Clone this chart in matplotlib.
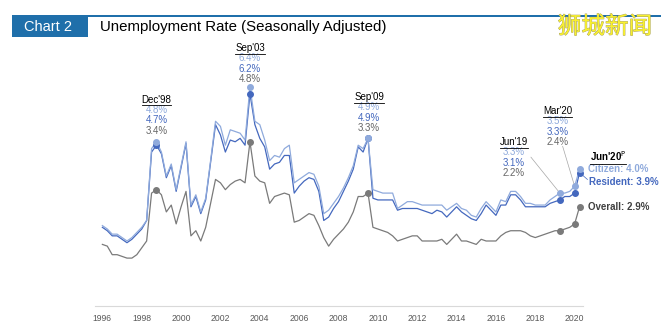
import matplotlib
matplotlib.use('Agg')
import matplotlib.pyplot as plt
import matplotlib.patheffects as pe
from matplotlib.lines import Line2D
from matplotlib.patches import Rectangle
from matplotlib.transforms import IdentityTransform

plt.rcParams['font.family'] = ['Liberation Sans', 'DejaVu Sans']

# Quarterly, Mar'96 .. Jun'20 (seasonally adjusted, %)
citizen = [2.35, 2.25, 2.1, 2.1, 2.0, 1.9, 2.0, 2.15, 2.3, 2.5,
           4.6, 4.8, 4.5, 3.8, 4.15, 3.4, 4.1, 4.8, 2.95, 3.25,
           2.75, 3.15, 4.25, 5.4, 5.25, 4.7, 5.15, 5.1, 5.05, 4.85,
           6.4, 5.4, 5.3, 4.85, 4.25, 4.4, 4.35, 4.6, 4.7, 3.6,
           3.7, 3.8, 3.9, 3.85, 3.5, 2.7, 2.8, 3.0, 3.2, 3.45,
           3.75, 4.1, 4.7, 4.6, 4.9, 3.4, 3.35, 3.3, 3.3, 3.3,
           2.85, 2.95, 3.05, 3.05, 3.0, 2.95, 2.95, 2.95, 2.95, 2.95,
           2.8, 2.9, 3.0, 2.85, 2.8, 2.65, 2.6, 2.85, 3.05, 2.9,
           2.75, 3.1, 3.05, 3.35, 3.35, 3.2, 3.0, 3.0, 2.95, 2.95,
           2.95, 3.1, 3.2, 3.3, 3.3, 3.35, 3.5, 4.0]
resident = [2.3, 2.2, 2.05, 2.05, 1.95, 1.85, 1.95, 2.1, 2.25, 2.5,
            4.5, 4.7, 4.45, 3.75, 4.1, 3.35, 4.05, 4.75, 2.9, 3.2,
            2.7, 3.1, 4.2, 5.3, 5.0, 4.5, 4.85, 4.8, 4.9, 4.7,
            6.2, 5.3, 4.9, 4.65, 4.0, 4.15, 4.2, 4.4, 4.4, 3.3,
            3.5, 3.65, 3.75, 3.7, 3.35, 2.5, 2.6, 2.85, 3.05, 3.35,
            3.65, 4.0, 4.65, 4.5, 4.9, 3.15, 3.1, 3.1, 3.1, 3.1,
            2.8, 2.85, 2.85, 2.85, 2.85, 2.8, 2.75, 2.7, 2.8, 2.75,
            2.6, 2.75, 2.9, 2.75, 2.65, 2.55, 2.5, 2.7, 2.95, 2.8,
            2.65, 2.95, 2.95, 3.25, 3.25, 3.1, 2.9, 2.9, 2.9, 2.9,
            2.9, 3.0, 3.05, 3.1, 3.2, 3.2, 3.3, 3.9]
overall = [1.8, 1.75, 1.5, 1.5, 1.45, 1.4, 1.4, 1.5, 1.7, 1.9,
           3.3, 3.4, 3.25, 2.75, 2.95, 2.4, 2.9, 3.35, 2.05, 2.2,
           1.9, 2.3, 3.0, 3.7, 3.6, 3.4, 3.55, 3.65, 3.7, 3.6,
           4.8, 3.8, 3.65, 3.6, 3.0, 3.2, 3.25, 3.3, 3.25, 2.45,
           2.5, 2.6, 2.7, 2.65, 2.35, 2.0, 1.75, 1.95, 2.1, 2.25,
           2.45, 2.75, 3.2, 3.2, 3.3, 2.3, 2.25, 2.2, 2.15, 2.05,
           1.9, 1.95, 2.0, 2.05, 2.05, 1.9, 1.9, 1.9, 1.9, 1.95,
           1.8, 1.95, 2.1, 1.9, 1.9, 1.85, 1.8, 1.95, 1.9, 1.9,
           1.9, 2.05, 2.15, 2.2, 2.2, 2.2, 2.15, 2.05, 2.0, 2.05,
           2.1, 2.15, 2.2, 2.2, 2.25, 2.3, 2.4, 2.9]

years = list(range(1996, 2021, 2))
marked = [11, 30, 54, 93, 96, 97]
marked_names = ["Dec'98", "Sep'03", "Sep'09", "Jun'19", "Mar'20"]

LIGHT = '#8FAADC'
DARK = '#4468BE'
GREY = '#7A7A7A'
HEAD = '#1F6FAA'

W, H = 661, 328
fig = plt.figure(figsize=(W / 100, H / 100), dpi=100)

# header band
fig.add_artist(Rectangle((12 / W, 1 - 17 / H), 1 - 12 / W, 2 / H,
                         transform=fig.transFigure, color=HEAD, lw=0))
fig.add_artist(Rectangle((12 / W, 1 - 37 / H), 76 / W, 22 / H,
                         transform=fig.transFigure, color=HEAD, lw=0))
fig.text(48 / W, 1 - 27 / H, 'Chart 2', color='white', fontsize=10.5,
         ha='center', va='center')
fig.text(100 / W, 1 - 27 / H, 'Unemployment Rate (Seasonally Adjusted)',
         color='black', fontsize=10.8, ha='left', va='center')
fig.text(605 / W, 1 - 27 / H, '狮城新闻', color='#F8F030', fontsize=17,
         family=['Noto Sans CJK SC'], ha='center', va='center',
         path_effects=[pe.withStroke(linewidth=0.6, foreground='#A8A060')])

ax = fig.add_axes([95 / W, 1 - 306 / H, (583 - 95) / W, (306 - 60) / H])
q = list(range(len(overall)))
ax.plot(q, overall, color=GREY, lw=0.9)
ax.plot(q, resident, color=DARK, lw=0.9)
ax.plot(q, citizen, color=LIGHT, lw=0.9)
ax.plot(marked, [overall[i] for i in marked], 'o', color=GREY, ms=4)
ax.plot(marked, [resident[i] for i in marked], 'o', color=DARK, ms=4)
ax.plot(marked, [citizen[i] for i in marked], 'o', color=LIGHT, ms=4)

ax.set_xlim(-1.5, 97.7)
ax.set_ylim(0, 7.19)
for s in ['top', 'right', 'left']:
    ax.spines[s].set_visible(False)
ax.spines['bottom'].set_color('#D9D9D9')
ax.set_yticks([])
ax.set_xticks([(y - 1996) * 4 for y in years])
ax.set_xticklabels([str(y) for y in years], fontsize=6.2, color='#595959')
ax.tick_params(axis='x', length=0, pad=6)

FS = 7
underline = []

def stack(i, name, dx, dy, leader=None):
    vals = [(citizen[i], LIGHT), (resident[i], DARK), (overall[i], '#666666')]
    y0 = citizen[i]
    t = ax.annotate(name, (i, y0), xytext=(dx, dy + 31), textcoords='offset pixels',
                    ha='center', va='center', fontsize=FS, color='black')
    underline.append(t)
    for k, (v, c) in enumerate(vals):
        ax.annotate('%.1f%%' % v, (i, y0), xytext=(dx, dy + 21 - 10.5 * k),
                    textcoords='offset pixels', ha='center', va='center',
                    fontsize=FS, color=c)
    if leader:
        ax.annotate('', (i, y0), xytext=leader, textcoords='offset pixels',
                    arrowprops=dict(arrowstyle='-', color='#A6A6A6', lw=0.5,
                                    shrinkA=0, shrinkB=2))

stack(11, marked_names[0], 0, 11)
stack(30, marked_names[1], 0, 8)
stack(54, marked_names[2], 1, 10)
stack(93, marked_names[3], -46, 20, leader=(-29, 36))
stack(96, marked_names[4], -17, 44, leader=(-12, 40))

j = marked[-1]
t = ax.annotate("Jun'20$^\\mathrm{P}$", (j, citizen[j]), xytext=(10, 13),
                textcoords='offset pixels', ha='left', va='center',
                fontsize=FS, fontweight='bold', color='black')
underline.append(t)
ax.annotate('Citizen: %.1f%%' % citizen[j], (j, citizen[j]), xytext=(8, 0),
            textcoords='offset pixels', ha='left', va='center',
            fontsize=FS, fontweight='bold', color=LIGHT)
ax.annotate('Resident: %.1f%%' % resident[j], (j, resident[j]), xytext=(9, -9),
            textcoords='offset pixels', ha='left', va='center',
            fontsize=FS, fontweight='bold', color=DARK)
ax.annotate('', (j, resident[j]), xytext=(8, -7), textcoords='offset pixels',
            arrowprops=dict(arrowstyle='-', color=DARK, lw=0.5, shrinkA=0, shrinkB=3))
ax.annotate('Overall: %.1f%%' % overall[j], (j, overall[j]), xytext=(8, 0),
            textcoords='offset pixels', ha='left', va='center',
            fontsize=FS, fontweight='bold', color='#404040')

fig.canvas.draw()
for t in underline:
    bb = t.get_window_extent()
    fig.add_artist(Line2D([bb.x0, bb.x1], [bb.y0 - 0.5, bb.y0 - 0.5],
                          transform=IdentityTransform(), color='black', lw=0.6))

fig.savefig('out.png', dpi=100)
